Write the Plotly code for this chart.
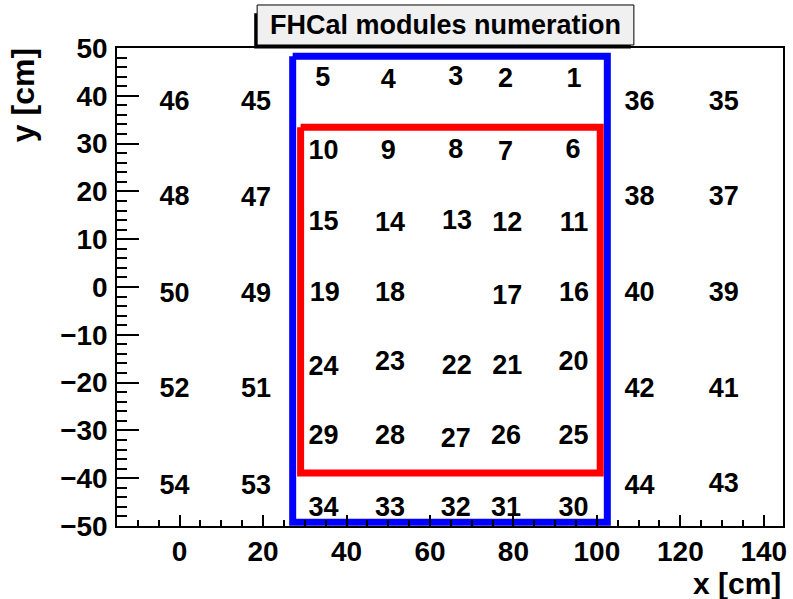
import plotly.graph_objects as go

# Module numbers and the (x, y) positions of their labels, in cm
module_ids = [
    "46", "45", "5", "4", "3", "2", "1", "36", "35",
    "10", "9", "8", "7", "6",
    "48", "47", "15", "14", "13", "12", "11", "38", "37",
    "50", "49", "19", "18", "17", "16", "40", "39",
    "24", "23", "22", "21", "20",
    "52", "51", "42", "41",
    "29", "28", "27", "26", "25",
    "54", "53", "44", "43",
    "34", "33", "32", "31", "30",
]
module_x = [
    -1.2, 18.3, 34.3, 50.0, 66.2, 78.1, 94.5, 110.2, 130.4,
    34.5, 50.0, 66.2, 78.1, 94.3,
    -1.2, 18.3, 34.5, 50.4, 66.5, 78.5, 94.5, 110.2, 130.4,
    -1.2, 18.3, 34.8, 50.4, 78.5, 94.5, 110.2, 130.4,
    34.5, 50.4, 66.4, 78.5, 94.4,
    -1.2, 18.3, 110.2, 130.4,
    34.5, 50.4, 66.2, 78.2, 94.4,
    -1.2, 18.3, 110.2, 130.4,
    34.5, 50.4, 66.2, 78.2, 94.4,
]
module_y = [
    38.4, 38.4, 43.5, 43.0, 43.7, 43.3, 43.2, 38.4, 38.4,
    28.2, 28.2, 28.5, 28.0, 28.3,
    18.5, 18.3, 13.4, 13.1, 13.6, 13.1, 13.1, 18.6, 18.6,
    -1.8, -1.8, -1.6, -1.5, -2.1, -1.6, -1.6, -1.6,
    -16.9, -15.9, -16.7, -16.7, -15.9,
    -21.6, -21.6, -21.6, -21.6,
    -31.5, -31.4, -32.0, -31.4, -31.4,
    -41.8, -41.9, -41.9, -41.5,
    -46.5, -46.5, -46.5, -46.5, -46.5,
]

# Outer (blue) and inner (red) detector regions, corners in cm
outer_x = [27.1, 102.5, 102.5, 27.1, 27.1]
outer_y = [48.3, 48.3, -49.2, -49.2, 48.3]
inner_x = [29.0, 100.8, 100.8, 29.0, 29.0]
inner_y = [33.4, 33.4, -38.9, -38.9, 33.4]

FONT = "Liberation Sans"

fig = go.Figure()

fig.add_trace(go.Scatter(
    x=module_x, y=module_y, text=module_ids, mode="text",
    textposition="middle center",
    textfont=dict(family=FONT, size=27, color="black", weight="bold"),
    hoverinfo="skip", showlegend=False,
))
fig.add_trace(go.Scatter(
    x=outer_x, y=outer_y, mode="lines",
    line=dict(color="#0000ff", width=7), hoverinfo="skip", showlegend=False,
))
fig.add_trace(go.Scatter(
    x=inner_x, y=inner_y, mode="lines",
    line=dict(color="#ff0000", width=7), hoverinfo="skip", showlegend=False,
))

axis_common = dict(
    showgrid=False, zeroline=False, showline=True, linecolor="black",
    linewidth=1.5, mirror=True, ticks="inside", tickcolor="black",
    tickwidth=1.5,
    tickfont=dict(family=FONT, size=28, color="black", weight="bold"),
)

fig.update_xaxes(
    range=[-15, 144.6], tickmode="array",
    tickvals=[0, 20, 40, 60, 80, 100, 120, 140], ticklen=11,
    minor=dict(dtick=5, tick0=0, ticks="inside", ticklen=6,
               tickcolor="black", tickwidth=1.5),
    **axis_common,
)
fig.update_yaxes(
    range=[-50, 50], tickmode="array",
    tickvals=[-50, -40, -30, -20, -10, 0, 10, 20, 30, 40, 50], ticklen=22,
    minor=dict(dtick=2, tick0=0, ticks="inside", ticklen=10,
               tickcolor="black", tickwidth=1.5),
    ticklabelstandoff=2,
    **axis_common,
)

# Title pad with a drop shadow on the lower-left side
fig.add_shape(type="rect", xref="paper", yref="paper",
              x0=0.2060, x1=0.7716, y0=0.9990, y1=1.0725,
              fillcolor="black", line=dict(width=0), layer="above")
fig.add_shape(type="rect", xref="paper", yref="paper",
              x0=0.2104, x1=0.7761, y0=1.0063, y1=1.0900,
              fillcolor="#f0f0f0", line=dict(color="black", width=1),
              layer="above")

fig.add_annotation(
    text="FHCal modules numeration", xref="paper", yref="paper",
    x=0.4932, y=1.048, xanchor="center", yanchor="middle", showarrow=False,
    font=dict(family=FONT, size=27, color="black", weight="bold"),
)
fig.add_annotation(
    text="x [cm]", xref="paper", yref="paper",
    x=1.0, y=-0.121, xanchor="right", yanchor="middle", showarrow=False,
    font=dict(family=FONT, size=30, color="black", weight="bold"),
)
fig.add_annotation(
    text="y [cm]", xref="paper", yref="paper", textangle=-90,
    x=-0.141, y=1.004, xanchor="center", yanchor="top", showarrow=False,
    font=dict(family=FONT, size=32, color="black", weight="bold"),
)

fig.update_layout(
    width=793, height=599,
    margin=dict(l=117, r=6, t=48, b=73),
    paper_bgcolor="white", plot_bgcolor="white",
    showlegend=False,
)

fig.write_html("out.html")
